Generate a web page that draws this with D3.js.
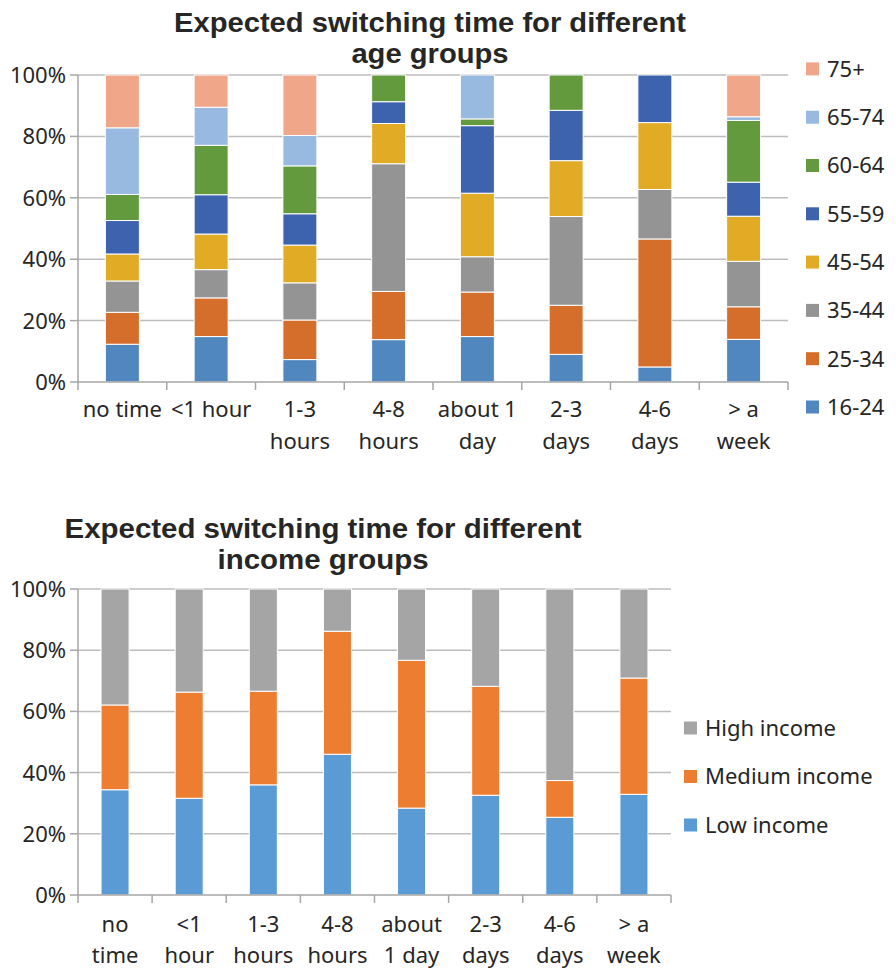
<!DOCTYPE html>
<html>
<head>
<meta charset="utf-8">
<script src="https://cdn.jsdelivr.net/npm/d3@7"></script>
<style>
  body { margin: 0; background: #fff; }
  svg { display: block; }
  text { font-family: "Noto Sans", "Open Sans", sans-serif; fill: #262626; }
  text.title { font-family: "Liberation Sans", Arial, sans-serif; }
</style>
</head>
<body>
<script>
// 数据：时间类别
var ageCats = ['no time', '<1 hour', '1-3 hours', '4-8 hours', 'about 1 day', '2-3 days', '4-6 days', '> a week'];
var ageCatLines = [['no time'], ['<1 hour'], ['1-3', 'hours'], ['4-8', 'hours'], ['about 1', 'day'], ['2-3', 'days'], ['4-6', 'days'], ['> a', 'week']];
var incomeCatLines = [['no', 'time'], ['<1', 'hour'], ['1-3', 'hours'], ['4-8', 'hours'], ['about', '1 day'], ['2-3', 'days'], ['4-6', 'days'], ['> a', 'week']];

// 年龄组 (%)
var ageGroups = ['16-24', '25-34', '35-44', '45-54', '55-59', '60-64', '65-74', '75+'];
var age16_24 = [12.3, 14.8, 7.3, 13.8, 14.8, 9.0, 4.9, 13.9];
var age25_34 = [10.4, 12.6, 12.9, 15.7, 14.5, 16.0, 41.7, 10.6];
var age35_44 = [10.2, 9.2, 12.1, 41.6, 11.5, 28.9, 16.1, 14.8];
var age45_54 = [8.8, 11.6, 12.3, 13.1, 20.7, 18.2, 21.8, 14.7];
var age55_59 = [10.9, 12.8, 10.2, 7.1, 22.0, 16.4, 15.5, 11.1];
var age60_64 = [8.5, 16.1, 15.6, 8.7, 2.2, 11.5, 0, 20.1];
var age65_74 = [21.7, 12.4, 9.9, 0, 14.3, 0, 0, 1.2];
var age75plus = [17.2, 10.5, 19.7, 0, 0, 0, 0, 13.6];
var ageColors = ['#4f87be', '#d56e2a', '#949494', '#e1ab26', '#3d63ae', '#639a3e', '#98b9e0', '#f0a689'];

// 收入组 (%)
var incomeGroups = ['Low income', 'Medium income', 'High income'];
var lowIncome = [34.4, 31.6, 36.0, 46.0, 28.4, 32.6, 25.4, 32.9];
var mediumIncome = [27.7, 34.7, 30.6, 40.2, 48.3, 35.6, 12.0, 38.0];
var highIncome = [37.9, 33.7, 33.4, 13.8, 23.3, 31.8, 62.6, 29.1];
var incomeColors = ['#5b9bd5', '#ed7d31', '#a5a5a5'];

var yTicks = [0, 20, 40, 60, 80, 100];

var width = 896;
var height = 972;
var svg = d3.select('body')
  .append('svg')
  .attr('width', width)
  .attr('height', height);

function buildRows(series, keys) {
  return ageCats.map(function (c, i) {
    var row = { cat: c };
    keys.forEach(function (k, j) { row[k] = series[j][i]; });
    return row;
  });
}

function drawTitle(lines, cx, baselines, targetWidth) {
  var g = svg.append('g');
  var texts = lines.map(function (t, i) {
    return g.append('text')
      .attr('class', 'title')
      .attr('x', cx)
      .attr('y', baselines[i])
      .attr('text-anchor', 'middle')
      .attr('font-size', 27)
      .attr('font-weight', 'bold')
      .attr('fill', '#1a1a1a')
      .text(t);
  });
  // 标题字体较窄，按比例压缩
  var ratio = targetWidth / texts[0].node().getComputedTextLength();
  texts.forEach(function (t) {
    var w = t.node().getComputedTextLength();
    t.attr('textLength', w * ratio).attr('lengthAdjust', 'spacingAndGlyphs');
  });
}

function drawChart(opt) {
  var rows = buildRows(opt.series, opt.keys);
  var stacked = d3.stack().keys(opt.keys)(rows);

  var x = d3.scaleBand()
    .domain(ageCats)
    .range([opt.left, opt.right])
    .padding(0);
  var y = d3.scaleLinear()
    .domain([0, 100])
    .range([opt.bottom, opt.top]);
  var barW = x.bandwidth() * opt.barRatio;

  var g = svg.append('g');

  // 网格线
  g.append('g')
    .selectAll('line')
    .data(yTicks.slice(1))
    .enter()
    .append('line')
    .attr('x1', opt.left)
    .attr('x2', opt.right)
    .attr('y1', function (d) { return y(d); })
    .attr('y2', function (d) { return y(d); })
    .attr('stroke', '#bdbdbd')
    .attr('stroke-width', 1.5);

  // 堆叠柱
  g.append('g')
    .selectAll('g')
    .data(stacked)
    .enter()
    .append('g')
    .attr('fill', function (d, i) { return opt.colors[i]; })
    .selectAll('rect')
    .data(function (d) { return d.filter(function (p) { return p[1] - p[0] > 0; }); })
    .enter()
    .append('rect')
    .attr('x', function (d) { return x(d.data.cat) + (x.bandwidth() - barW) / 2; })
    .attr('width', barW)
    .attr('y', function (d) { return y(d[1]); })
    .attr('height', function (d) { return y(d[0]) - y(d[1]); })
    .attr('stroke', '#ffffff')
    .attr('stroke-width', 1);

  // y轴
  var yAxis = g.append('g');
  yAxis.append('line')
    .attr('x1', opt.left).attr('x2', opt.left)
    .attr('y1', opt.top).attr('y2', opt.bottom)
    .attr('stroke', '#a6a6a6').attr('stroke-width', 1.5);
  yAxis.selectAll('.yt')
    .data(yTicks)
    .enter()
    .append('line')
    .attr('x1', opt.left - 8).attr('x2', opt.left)
    .attr('y1', function (d) { return y(d); })
    .attr('y2', function (d) { return y(d); })
    .attr('stroke', '#a6a6a6').attr('stroke-width', 1.5);
  yAxis.selectAll('text')
    .data(yTicks)
    .enter()
    .append('text')
    .attr('x', opt.left - 12)
    .attr('y', function (d) { return y(d); })
    .attr('dy', '0.36em')
    .attr('text-anchor', 'end')
    .attr('font-size', 22)
    .text(function (d) { return d + '%'; });

  // x轴
  var xAxis = g.append('g');
  xAxis.append('line')
    .attr('x1', opt.left).attr('x2', opt.right)
    .attr('y1', opt.bottom).attr('y2', opt.bottom)
    .attr('stroke', '#a6a6a6').attr('stroke-width', 1.5);
  xAxis.selectAll('.xt')
    .data(ageCats.map(function (c) { return x(c); }).concat([opt.right]))
    .enter()
    .append('line')
    .attr('x1', function (d) { return d; })
    .attr('x2', function (d) { return d; })
    .attr('y1', opt.bottom)
    .attr('y2', opt.bottom + 8)
    .attr('stroke', '#a6a6a6').attr('stroke-width', 1.5);
  xAxis.selectAll('text')
    .data(ageCats)
    .enter()
    .append('text')
    .attr('text-anchor', 'middle')
    .attr('font-size', 22)
    .attr('transform', function (d) {
      return 'translate(' + (x(d) + x.bandwidth() / 2) + ',' + (opt.bottom + opt.labelOffset) + ')';
    })
    .each(function (d, i) {
      var t = d3.select(this);
      opt.catLines[i].forEach(function (line, j) {
        t.append('tspan')
          .attr('x', 0)
          .attr('y', j * opt.lineGap)
          .text(line);
      });
    });

  // 图例
  var leg = g.append('g')
    .selectAll('g')
    .data(opt.keys)
    .enter()
    .append('g')
    .attr('transform', function (d, i) {
      return 'translate(' + opt.legendX + ',' + opt.legendY(i) + ')';
    });
  leg.append('rect')
    .attr('x', 0)
    .attr('y', -6.5)
    .attr('width', 13)
    .attr('height', 13)
    .attr('fill', function (d, i) { return opt.colors[i]; });
  leg.append('text')
    .attr('x', 21)
    .attr('y', 0)
    .attr('dy', '0.36em')
    .attr('font-size', 22)
    .text(function (d) { return d; });
}

drawTitle(['Expected switching time for different', 'age groups'], 430, [32, 63], 512);
drawChart({
  series: [age16_24, age25_34, age35_44, age45_54, age55_59, age60_64, age65_74, age75plus],
  keys: ageGroups,
  colors: ageColors,
  catLines: ageCatLines,
  left: 78, right: 788, top: 75, bottom: 382,
  barRatio: 0.383,
  labelOffset: 35, lineGap: 32,
  legendX: 806,
  legendY: function (i) { return 407 - i * 48.3; }
});

drawTitle(['Expected switching time for different', 'income groups'], 323, [538, 569], 517);
drawChart({
  series: [lowIncome, mediumIncome, highIncome],
  keys: incomeGroups,
  colors: incomeColors,
  catLines: incomeCatLines,
  left: 78, right: 671, top: 589, bottom: 895,
  barRatio: 0.378,
  labelOffset: 37, lineGap: 31,
  legendX: 684,
  legendY: function (i) { return 825 - i * 48.5; }
});
</script>
</body>
</html>
